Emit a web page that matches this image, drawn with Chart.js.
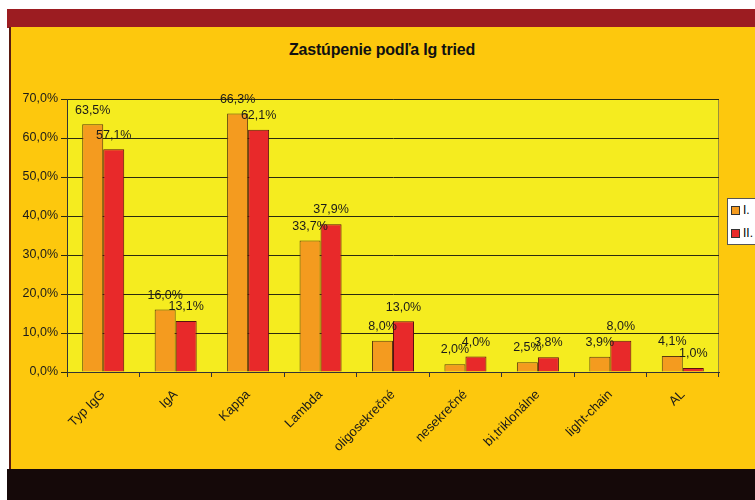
<!DOCTYPE html>
<html>
<head>
<meta charset="utf-8">
<script src="https://cdn.jsdelivr.net/npm/chart.js@4/dist/chart.umd.min.js"></script>
<style>
    body { margin: 0; background: #fff; width: 755px; height: 500px; overflow: hidden; position: relative; font-family: "Liberation Sans", Arial, sans-serif; }
    #topBand { position: absolute; left: 7px; top: 9px; width: 748px; height: 19px; background: #9c1c21; }
    #panel { position: absolute; left: 9px; top: 27px; width: 746px; height: 442px; background: #fdc80d; border-left: 2px solid #5a1a10; box-sizing: border-box; }
    #bottomBand { position: absolute; left: 7px; top: 469px; width: 748px; height: 31px; background: #150909; }
    #title { position: absolute; left: 9px; width: 746px; top: 41px; text-align: center; font-weight: bold; font-size: 16px; color: #111; letter-spacing: -0.2px; }
    #chartBox { position: absolute; left: 11px; top: 27px; width: 744px; height: 442px; }
    #legend { position: absolute; left: 727px; top: 198px; width: 40px; height: 47px; background: #fff; border: 1px solid #555; box-sizing: border-box; font-size: 12px; }
    .item { position: absolute; left: 3px; height: 12px; line-height: 12px; }
    .item span { display: inline-block; width: 7px; height: 7px; border: 1px solid #333; margin-right: 3px; vertical-align: middle; }
</style>
</head>
<body>
<div id="topBand"></div>
<div id="panel"></div>
<div id="bottomBand"></div>
<div id="title">Zastúpenie podľa Ig tried</div>
<div id="chartBox"><canvas id="igChart"></canvas></div>
<div id="legend">
    <div class="item" style="top:5px"><span style="background:#f49b1f"></span>I.</div>
    <div class="item" style="top:28px"><span style="background:#e8292a"></span>II.</div>
</div>
<script>
// Dáta z grafu
const categories = ["Typ IgG", "IgA", "Kappa", "Lambda", "oligosekrečné", "nesekrečné", "bi,triklonálne", "light-chain", "AL"];
const seriesNames = ["I.", "II."];
const valuesI = [63.5, 16.0, 66.3, 33.7, 8.0, 2.0, 2.5, 3.9, 4.1];
const valuesII = [57.1, 13.1, 62.1, 37.9, 13.0, 4.0, 3.8, 8.0, 1.0];
const yTicks = [0, 10, 20, 30, 40, 50, 60, 70];

function pct(v) {
    return v.toFixed(1).replace(".", ",") + "%";
}

// pozadie plochy grafu
const plotBackground = {
    id: "plotBackground",
    beforeDraw(chart) {
        const { ctx, chartArea: a } = chart;
        ctx.save();
        ctx.fillStyle = "#f5ec1f";
        ctx.fillRect(a.left, a.top, a.right - a.left, a.bottom - a.top);
        ctx.strokeStyle = "#9a8f3a";
        ctx.lineWidth = 1;
        ctx.strokeRect(a.left + 0.5, a.top + 0.5, a.right - a.left - 1, a.bottom - a.top);
        ctx.restore();
    }
};

// hodnoty nad stĺpcami
const valueLabels = {
    id: "valueLabels",
    afterDatasetsDraw(chart) {
        const ctx = chart.ctx;
        ctx.save();
        ctx.font = "12.5px 'Liberation Sans', Arial, sans-serif";
        ctx.fillStyle = "#1a1a1a";
        ctx.textAlign = "center";
        ctx.textBaseline = "bottom";
        chart.data.datasets.forEach((ds, i) => {
            chart.getDatasetMeta(i).data.forEach((bar, j) => {
                ctx.fillText(pct(ds.data[j]), bar.x, bar.y - 8);
            });
        });
        ctx.restore();
    }
};

new Chart(document.getElementById("igChart"), {
    type: "bar",
    data: {
        labels: categories,
        datasets: [{
            label: seriesNames[0],
            data: valuesI,
            backgroundColor: "#f49b1f",
            borderColor: "#5a3a10",
            borderWidth: 1
        }, {
            label: seriesNames[1],
            data: valuesII,
            backgroundColor: "#e8292a",
            borderColor: "#5a1010",
            borderWidth: 1
        }]
    },
    options: {
        responsive: true,
        maintainAspectRatio: false,
        animation: false,
        layout: { padding: { top: 72, right: 36, left: 0, bottom: 0 } },
        datasets: { bar: { categoryPercentage: 0.58, barPercentage: 1 } },
        plugins: {
            legend: { display: false },
            title: { display: false },
            tooltip: { enabled: false }
        },
        scales: {
            x: {
                grid: { display: true, drawOnChartArea: false, offset: true, color: "#333", tickLength: 5 },
                border: { color: "#333" },
                ticks: {
                    minRotation: 45, maxRotation: 45,
                    padding: 10,
                    color: "#1a1a1a",
                    font: { family: "'Liberation Sans', Arial, sans-serif", size: 13 }
                },
                afterFit(scale) { scale.height = 97; }
            },
            y: {
                min: 0, max: 70,
                afterBuildTicks(scale) { scale.ticks = yTicks.map(v => ({ value: v })); },
                grid: { color: "#2a2a10", tickLength: 6 },
                border: { color: "#333" },
                ticks: {
                    color: "#1a1a1a",
                    font: { family: "'Liberation Sans', Arial, sans-serif", size: 12.5 },
                    callback: v => pct(v)
                },
                afterFit(scale) { scale.width = 56; }
            }
        }
    },
    plugins: [plotBackground, valueLabels]
});
</script>
</body>
</html>
